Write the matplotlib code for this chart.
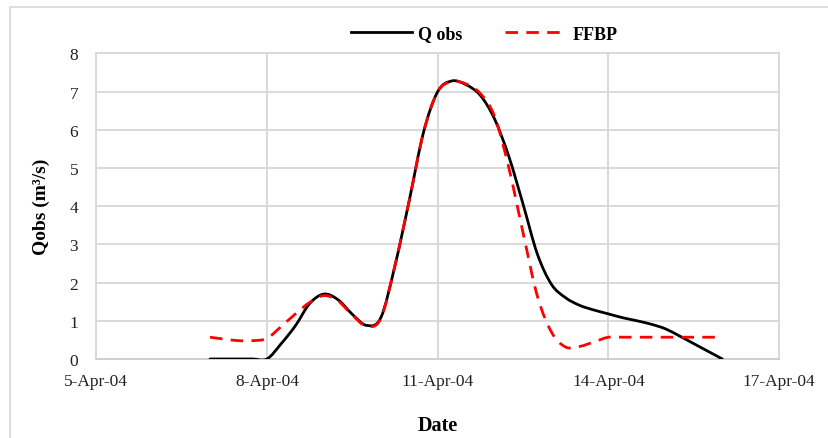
import matplotlib
matplotlib.use("Agg")
import matplotlib.pyplot as plt
import matplotlib.dates as mdates
from matplotlib.path import Path
from matplotlib.patches import PathPatch, Rectangle
from matplotlib.lines import Line2D
import numpy as np
import pandas as pd

# 6-hourly discharge, 7-Apr-2004 to 16-Apr-2004
times = pd.date_range("2004-04-07", "2004-04-16", freq="6h")

q_obs = [0.00, 0.00, 0.00, 0.00, 0.00, 0.40, 0.87, 1.45, 1.70, 1.55,
         1.17, 0.88, 1.08, 2.45, 4.15, 5.93, 7.00, 7.28, 7.18, 6.90,
         6.28, 5.30, 4.05, 2.75, 1.95, 1.60, 1.40, 1.28, 1.18, 1.08,
         1.00, 0.91, 0.79, 0.60, 0.40, 0.20, 0.00]

ffbp = [0.57, 0.52, 0.48, 0.48, 0.54, 0.85, 1.18, 1.48, 1.66, 1.52,
        1.15, 0.86, 1.06, 2.45, 4.15, 5.93, 7.00, 7.26, 7.20, 6.95,
        6.35, 5.00, 3.30, 1.65, 0.70, 0.31, 0.33, 0.45, 0.57, 0.57,
        0.57, 0.57, 0.57, 0.57, 0.57, 0.57, 0.57]

x_ticks = pd.date_range("2004-04-05", "2004-04-17", freq="3D")

plt.rcParams["font.family"] = ["Liberation Serif", "DejaVu Serif"]


def smooth_path(x, y):
    """Bezier path through the points (Catmull-Rom style smoothing)."""
    pts = np.column_stack([x, y])
    n = len(pts)
    verts = [pts[0]]
    codes = [Path.MOVETO]
    for i in range(n - 1):
        p0 = pts[i - 1] if i > 0 else pts[i]
        p1 = pts[i]
        p2 = pts[i + 1]
        p3 = pts[i + 2] if i + 2 < n else pts[i + 1]
        c1 = p1 + (p2 - p0) / 6.0
        c2 = p2 - (p3 - p1) / 6.0
        verts += [c1, c2, p2]
        codes += [Path.CURVE4] * 3
    return Path(verts, codes)


fig = plt.figure(figsize=(8.29, 4.39), dpi=100)
ax = fig.add_axes([0.116, 0.180, 0.824, 0.696])

# chart-area frame
fig.patches.append(Rectangle((10 / 829, -0.05), 1.1, 1 - 8 / 439 + 0.05,
                             transform=fig.transFigure, fill=False,
                             edgecolor="#d9d9d9", linewidth=1.2))

xn = mdates.date2num(times)
ax.add_patch(PathPatch(smooth_path(xn, q_obs), fill=False,
                       edgecolor="black", linewidth=2.0, zorder=3,
                       capstyle="round"))
ax.add_patch(PathPatch(smooth_path(xn, ffbp), fill=False,
                       edgecolor="#ff0000", linewidth=2.0, zorder=4,
                       linestyle=(0, (4.5, 3.0))))

ax.set_xlim(x_ticks[0], x_ticks[-1])
ax.set_ylim(0, 8)
ax.set_xticks(x_ticks)
ax.xaxis.set_major_formatter(
    plt.FuncFormatter(lambda v, p: (lambda d: f"{d.day}-{d:%b-%y}")(mdates.num2date(v))))
ax.set_yticks(range(0, 9))

ax.grid(True, color="#d9d9d9", linewidth=1.4, zorder=0)
ax.set_axisbelow(True)
for s in ax.spines.values():
    s.set_color("#d9d9d9")
    s.set_linewidth(1.4)
ax.spines["bottom"].set_color("#cfcfcf")
ax.tick_params(length=0, labelsize=12.5, colors="#222222")
ax.tick_params(axis="y", pad=13)
ax.tick_params(axis="x", pad=10)

ax.set_ylabel("Qobs (m³/s)", fontsize=14, fontweight="bold", labelpad=14)
ax.set_xlabel("Date", fontsize=14.5, fontweight="bold", labelpad=19)

handles = [Line2D([], [], color="black", linewidth=2.0),
           Line2D([], [], color="#ff0000", linewidth=2.0, linestyle=(0, (4.5, 3.0)))]
fig.legend(handles, ["Q obs", "FFBP"], ncol=2, frameon=False,
           loc="center", bbox_to_anchor=(484 / 829, 1 - 35 / 439),
           prop={"weight": "bold", "size": 13}, handlelength=3.4,
           columnspacing=2.4, handletextpad=0.3)

fig.savefig("out.png", dpi=100)
